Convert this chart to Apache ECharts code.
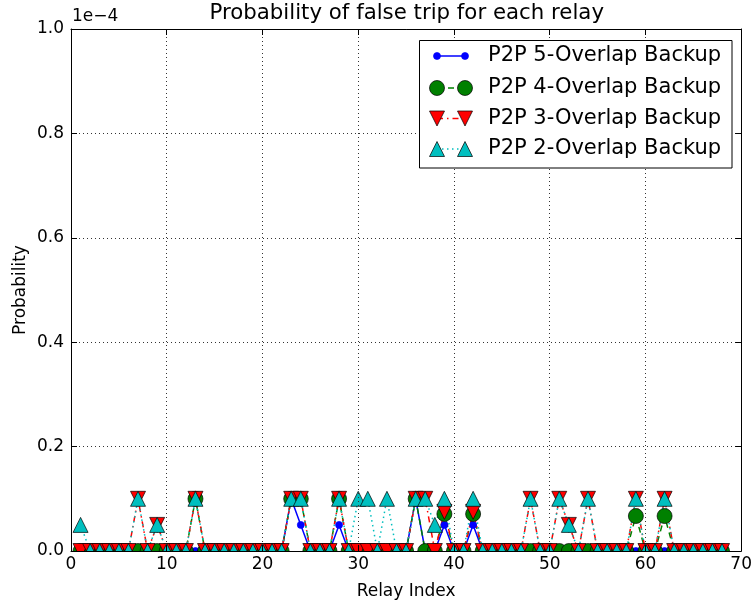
<!DOCTYPE html>
<html>
<head>
<meta charset="utf-8">
<script src="https://cdn.jsdelivr.net/npm/echarts@6/dist/echarts.min.js"></script>
<style>
  html, body { margin: 0; padding: 0; background: #fff; }
  #chart { width: 755px; height: 605px; }
</style>
</head>
<body>
<div id="chart"></div>
<script>
// Relay indices on the x axis
const relayIndex = [
  1, 2, 3, 4, 5, 6, 7, 8, 9, 10,
  11, 12, 13, 14, 15, 16, 17, 18, 19, 20,
  21, 22, 23, 24, 25, 26, 27, 28, 29, 30,
  31, 32, 33, 34, 35, 36, 37, 38, 39, 40,
  41, 42, 43, 44, 45, 46, 47, 48, 49, 50,
  51, 52, 53, 54, 55, 56, 57, 58, 59, 60,
  61, 62, 63, 64, 65, 66, 67, 68
];

// Probability of false trip, one value per relay
const overlap5 = [
  0, 0, 0, 0, 0, 0, 0, 0, 0, 0,
  0, 0, 0, 0, 0, 0, 0, 0, 0, 0,
  0, 0, 1e-5, 5e-6, 0, 0, 0, 5e-6, 0, 0,
  0, 0, 0, 0, 0, 1e-5, 0, 0, 5e-6, 0,
  0, 5e-6, 0, 0, 0, 0, 0, 0, 0, 0,
  0, 0, 0, 0, 0, 0, 0, 0, 0, 0,
  0, 0, 0, 0, 0, 0, 0, 0
];
const overlap4 = [
  0, 0, 0, 0, 0, 0, 0, 0, 0, 0,
  0, 0, 1e-5, 0, 0, 0, 0, 0, 0, 0,
  0, 0, 1e-5, 1e-5, 0, 0, 0, 1e-5, 0, 0,
  0, 0, 0, 0, 0, 1e-5, 0, 0, 7.1e-6, 0,
  0, 7.1e-6, 0, 0, 0, 0, 0, 0, 0, 0,
  0, 0, 0, 0, 0, 0, 0, 0, 6.7e-6, 0,
  0, 6.7e-6, 0, 0, 0, 0, 0, 0
];
const overlap3 = [
  0, 0, 0, 0, 0, 0, 1e-5, 0, 5e-6, 0,
  0, 0, 1e-5, 0, 0, 0, 0, 0, 0, 0,
  0, 0, 1e-5, 1e-5, 0, 0, 0, 1e-5, 0, 0,
  0, 0, 0, 0, 0, 1e-5, 1e-5, 0, 7.5e-6, 0,
  0, 7.5e-6, 0, 0, 0, 0, 0, 1e-5, 0, 0,
  1e-5, 5e-6, 0, 1e-5, 0, 0, 0, 0, 1e-5, 0,
  0, 1e-5, 0, 0, 0, 0, 0, 0
];
const overlap2 = [
  5e-6, 0, 0, 0, 0, 0, 1e-5, 0, 5e-6, 0,
  0, 0, 1e-5, 0, 0, 0, 0, 0, 0, 0,
  0, 0, 1e-5, 1e-5, 0, 0, 0, 1e-5, 0, 1e-5,
  1e-5, 0, 1e-5, 0, 0, 1e-5, 1e-5, 5e-6, 1e-5, 0,
  0, 1e-5, 0, 0, 0, 0, 0, 1e-5, 0, 0,
  1e-5, 5e-6, 0, 1e-5, 0, 0, 0, 0, 1e-5, 0,
  0, 1e-5, 0, 0, 0, 0, 0, 0
];

const seriesNames = [
  'P2P 5-Overlap Backup',
  'P2P 4-Overlap Backup',
  'P2P 3-Overlap Backup',
  'P2P 2-Overlap Backup'
];
const xTicks = [0, 10, 20, 30, 40, 50, 60, 70];
const yTicks = [0, 2e-5, 4e-5, 6e-5, 8e-5, 1e-4];

const FONT = 'DejaVu Sans';
const BLUE = '#0000ff', GREEN = '#008000', RED = '#ff0000', CYAN = '#00bfbf';

const pairs = vals => relayIndex.map((x, i) => [x, vals[i]]);

const styles = [
  { color: BLUE, symbol: 'circle', size: 7, rotate: 0, dash: 'solid', border: BLUE },
  { color: GREEN, symbol: 'circle', size: 15, rotate: 0, dash: [6, 5], border: '#000' },
  { color: RED, symbol: 'triangle', size: 15, rotate: 180, dash: [6, 4, 1.5, 4], border: '#000' },
  { color: CYAN, symbol: 'triangle', size: 15, rotate: 0, dash: [1.5, 3.5], border: '#000' }
];
const allValues = [overlap5, overlap4, overlap3, overlap2];

const series = allValues.map((vals, k) => ({
  name: seriesNames[k],
  type: 'line',
  data: pairs(vals),
  symbol: styles[k].symbol,
  symbolSize: styles[k].size,
  symbolRotate: styles[k].rotate,
  showAllSymbol: true,
  clip: true,
  z: 2,
  lineStyle: { color: styles[k].color, width: 1.5, type: styles[k].dash },
  itemStyle: { color: styles[k].color, borderColor: styles[k].border, borderWidth: 0.7 },
  emphasis: { disabled: true }
}));

// Plot frame geometry
const L = 71, R = 742.5, T = 29, B = 551;

// Legend box drawn as graphic elements (two markers joined by the series line)
const legendRows = [56, 88, 118.5, 149];
const legendEls = [{
  type: 'rect', z: 100,
  shape: { x: 419.5, y: 40.5, width: 312.5, height: 127.5 },
  style: { fill: '#fff', stroke: '#000', lineWidth: 1 }
}];
function markerEl(k, cx, cy) {
  const s = styles[k];
  if (s.symbol === 'circle') {
    return { type: 'circle', z: 102, shape: { cx, cy, r: s.size / 2 },
      style: { fill: s.color, stroke: s.border, lineWidth: 0.7 } };
  }
  const h = s.size / 2;
  const pts = s.rotate === 180
    ? [[cx - h, cy - h], [cx + h, cy - h], [cx, cy + h]]
    : [[cx, cy - h], [cx + h, cy + h], [cx - h, cy + h]];
  return { type: 'polygon', z: 102, shape: { points: pts },
    style: { fill: s.color, stroke: s.border, lineWidth: 0.7 } };
}
legendRows.forEach((y, k) => {
  legendEls.push({
    type: 'line', z: 101,
    shape: { x1: 437, y1: y, x2: 465, y2: y },
    style: { stroke: styles[k].color, lineWidth: 1.5,
      lineDash: styles[k].dash === 'solid' ? null : styles[k].dash }
  });
  legendEls.push(markerEl(k, 437, y));
  legendEls.push(markerEl(k, 465, y));
  legendEls.push({
    type: 'text', z: 102, x: 488, y: y,
    style: { text: seriesNames[k], font: '21px "DejaVu Sans"', fill: '#000',
      textVerticalAlign: 'middle', verticalAlign: 'middle' }
  });
});

const chart = echarts.init(document.getElementById('chart'), null, { renderer: 'canvas' });
chart.setOption({
  animation: false,
  backgroundColor: '#fff',
  textStyle: { fontFamily: FONT },
  grid: { left: L, right: 755 - R, top: T, bottom: 605 - B, containLabel: false },
  xAxis: [{
    type: 'value', min: xTicks[0], max: xTicks[xTicks.length - 1], interval: 10,
    position: 'bottom', z: 10,
    name: 'Relay Index', nameLocation: 'middle', nameGap: 32,
    nameTextStyle: { fontSize: 17, color: '#000', fontFamily: FONT },
    axisLine: { show: true, onZero: false, lineStyle: { color: '#000', width: 1 } },
    axisTick: { show: true, inside: true, length: 6, lineStyle: { color: '#000' } },
    axisLabel: { fontSize: 17, color: '#000', fontFamily: FONT, margin: 5 },
    splitLine: { show: true, lineStyle: { color: '#333', width: 1, type: [1, 3] } }
  }, {
    type: 'value', min: xTicks[0], max: xTicks[xTicks.length - 1], interval: 10,
    position: 'top', z: 10,
    axisLine: { show: true, onZero: false, lineStyle: { color: '#000', width: 1 } },
    axisTick: { show: true, inside: true, length: 6, lineStyle: { color: '#000' } },
    axisLabel: { show: false },
    splitLine: { show: false }
  }],
  yAxis: [{
    type: 'value', min: yTicks[0], max: yTicks[yTicks.length - 1], interval: 2e-5,
    position: 'left', z: 10,
    name: 'Probability', nameLocation: 'middle', nameGap: 42, nameMoveOverlap: false,
    nameTextStyle: { fontSize: 17, color: '#000', fontFamily: FONT },
    axisLine: { show: true, onZero: false, lineStyle: { color: '#000', width: 1 } },
    axisTick: { show: true, inside: true, length: 6, lineStyle: { color: '#000' } },
    axisLabel: { fontSize: 17, color: '#000', fontFamily: FONT, margin: 7,
      formatter: v => (v / 1e-4).toFixed(1) },
    splitLine: { show: true, lineStyle: { color: '#333', width: 1, type: [1, 3] } }
  }, {
    type: 'value', min: yTicks[0], max: yTicks[yTicks.length - 1], interval: 2e-5,
    position: 'right', z: 10,
    axisLine: { show: true, onZero: false, lineStyle: { color: '#000', width: 1 } },
    axisTick: { show: true, inside: true, length: 6, lineStyle: { color: '#000' } },
    axisLabel: { show: false },
    splitLine: { show: false }
  }],
  graphic: {
    elements: [
      // strip under the x axis so markers sitting on zero are cut at the frame
      { type: 'rect', z: 5, silent: true,
        shape: { x: L + 0.5, y: B + 0.5, width: R - L - 1, height: 10 },
        style: { fill: '#fff' } },
      { type: 'text', z: 50, x: (L + R) / 2, y: 13,
        style: { text: 'Probability of false trip for each relay', font: '21.3px "DejaVu Sans"',
          fill: '#000', textAlign: 'center', align: 'center',
          textVerticalAlign: 'middle', verticalAlign: 'middle' } },
      { type: 'text', z: 50, x: 72, y: 17,
        style: { text: '1e\u22124', font: '17px "DejaVu Sans"', fill: '#000',
          textVerticalAlign: 'middle', verticalAlign: 'middle' } }
    ].concat(legendEls)
  },
  series: series
});
</script>
</body>
</html>
